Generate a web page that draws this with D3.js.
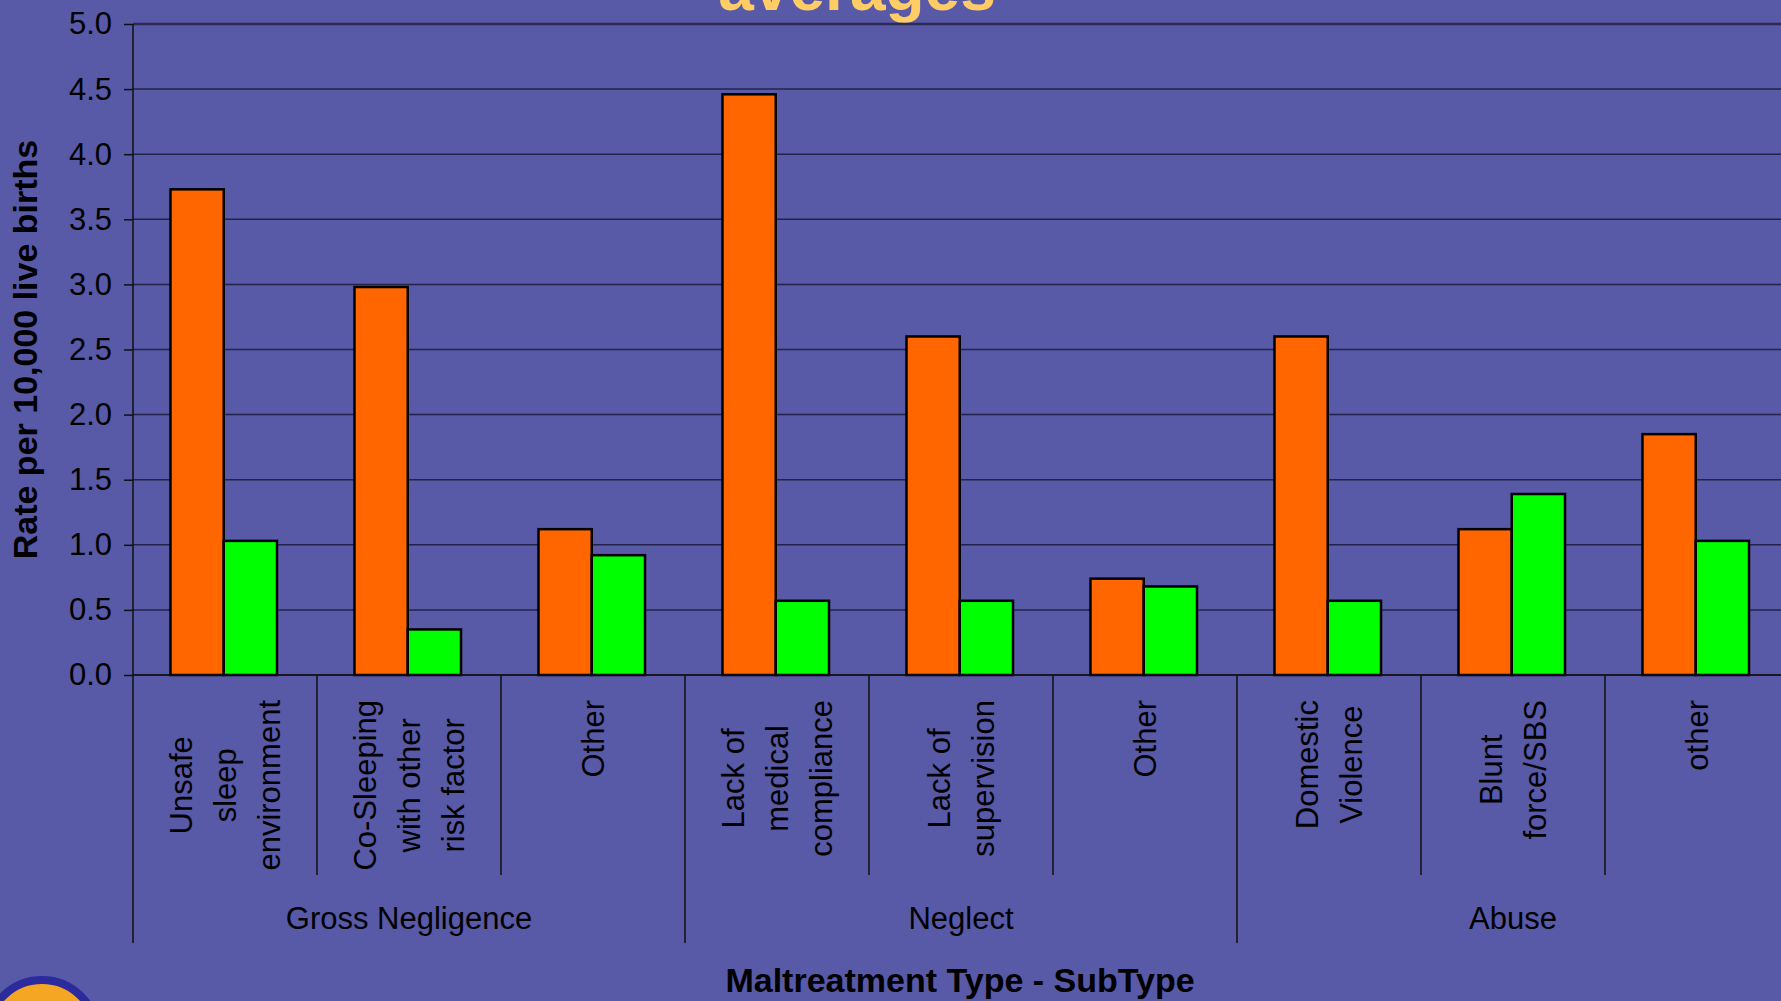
<!DOCTYPE html>
<html>
<head>
<meta charset="utf-8">
<script src="https://cdn.jsdelivr.net/npm/d3@7"></script>
<style>
  html, body { margin: 0; padding: 0; background: #5859A7; overflow: hidden; }
  svg { display: block; }
  text { font-family: "Liberation Sans", Arial, sans-serif; }
</style>
</head>
<body>
<svg id="chart" width="1781" height="1001"></svg>
<script>
// ---- data ----
const groups = ["Gross Negligence", "Neglect", "Abuse"];
const categories = [
  ["Unsafe", "sleep", "environment"],
  ["Co-Sleeping", "with other", "risk factor"],
  ["Other"],
  ["Lack of", "medical", "compliance"],
  ["Lack of", "supervision"],
  ["Other"],
  ["Domestic", "Violence"],
  ["Blunt", "force/SBS"],
  ["other"]
];
const categoryGroup = [0, 0, 0, 1, 1, 1, 2, 2, 2];
const seriesNames = ["Series A", "Series B"];
const seriesA = [3.73, 2.98, 1.12, 4.46, 2.60, 0.74, 2.60, 1.12, 1.85];
const seriesB = [1.03, 0.35, 0.92, 0.57, 0.57, 0.68, 0.57, 1.39, 1.03];
const yTicks = [0, 0.5, 1, 1.5, 2, 2.5, 3, 3.5, 4, 4.5, 5];
const titleText = "averages";
const yTitle = "Rate per 10,000 live births";
const xTitle = "Maltreatment Type - SubType";

(function () {
// ---- layout ----
const svg = d3.select("#chart");
const pL = 133, pT = 24, pB = 675;
const step = 184;
const pR = pL + step * categories.length;
const colors = ["#FF6600", "#00FF00"];

const idx = d3.range(categories.length);
const x0 = d3.scaleBand().domain(idx).range([pL, pR]).padding(0);
const x1 = d3.scaleBand().domain([0, 1]).range([37.5, 144]).padding(0);
const y = d3.scaleLinear().domain([0, 5]).range([pB, pT]);

// title (cut off at top, as in the reference)
svg.append("text")
  .attr("x", 857).attr("y", 10)
  .attr("text-anchor", "middle")
  .attr("font-weight", "bold").attr("font-size", 64)
  .attr("fill", "#FFCC66")
  .text(titleText);

// gridlines
svg.append("g")
  .selectAll("line").data(yTicks).join("line")
  .attr("x1", pL).attr("x2", pR)
  .attr("y1", d => y(d)).attr("y2", d => y(d))
  .attr("stroke", d => d === 5 ? "#2a2a55" : "#23234a")
  .attr("stroke-width", d => d === 5 ? 2.5 : 1.5);

// y axis
const yAxis = d3.axisLeft(y).tickValues(yTicks).tickFormat(d3.format(".1f")).tickSize(9).tickPadding(12);
const yg = svg.append("g").attr("transform", `translate(${pL},0)`).call(yAxis);
yg.select(".domain").remove();
yg.selectAll(".tick line").attr("stroke", "#111").attr("stroke-width", 1.5);
yg.selectAll(".tick text").attr("font-size", 31).attr("fill", "#000")
  .attr("font-family", "'Liberation Sans', Arial, sans-serif");

// bars
const bars = svg.append("g");
idx.forEach(i => {
  [seriesA[i], seriesB[i]].forEach((v, s) => {
    bars.append("rect")
      .attr("x", x0(i) + x1(s))
      .attr("y", y(v))
      .attr("width", x1.bandwidth())
      .attr("height", y(0) - y(v))
      .attr("fill", colors[s])
      .attr("stroke", "#000")
      .attr("stroke-width", 2.5);
  });
});

// axis lines
svg.append("line").attr("x1", pL).attr("x2", pR).attr("y1", pB).attr("y2", pB)
  .attr("stroke", "#111").attr("stroke-width", 1.5);
svg.append("line").attr("x1", pL).attr("x2", pL).attr("y1", pT).attr("y2", 943)
  .attr("stroke", "#111").attr("stroke-width", 1.5);

// category dividers
idx.slice(1).forEach(i => {
  const isGroupEdge = categoryGroup[i] !== categoryGroup[i - 1];
  svg.append("line")
    .attr("x1", x0(i)).attr("x2", x0(i))
    .attr("y1", pB).attr("y2", isGroupEdge ? 943 : 875)
    .attr("stroke", "#111").attr("stroke-width", 1.5);
});
svg.append("line").attr("x1", pR).attr("x2", pR).attr("y1", pB).attr("y2", 943)
  .attr("stroke", "#111").attr("stroke-width", 1.5);

// category labels (rotated, multi-line, centered)
const lineGap = 44;
const labelTop = 700;
idx.forEach(i => {
  const lines = categories[i];
  const cx = x0(i) + step / 2;
  const g = svg.append("g");
  const texts = lines.map(ln => g.append("text")
    .attr("font-size", 31).attr("fill", "#000")
    .attr("text-anchor", "middle").attr("dy", "0.35em")
    .text(ln));
  const maxLen = d3.max(texts, t => t.node().getComputedTextLength());
  const cy = labelTop + maxLen / 2;
  texts.forEach((t, k) => {
    const off = (k - (lines.length - 1) / 2) * lineGap;
    t.attr("transform", `translate(${cx + off},${cy}) rotate(-90)`);
  });
});

// group labels
groups.forEach((gname, gi) => {
  const members = idx.filter(i => categoryGroup[i] === gi);
  const gx = (x0(members[0]) + x0(members[members.length - 1]) + step) / 2;
  svg.append("text")
    .attr("x", gx).attr("y", 929)
    .attr("text-anchor", "middle").attr("font-size", 31).attr("fill", "#000")
    .text(gname);
});

// axis titles
svg.append("text")
  .attr("transform", `translate(37,${(pT + pB) / 2}) rotate(-90)`)
  .attr("text-anchor", "middle")
  .attr("font-weight", "bold").attr("font-size", 34).attr("fill", "#000")
  .text(yTitle);
svg.append("text")
  .attr("x", 960).attr("y", 992)
  .attr("text-anchor", "middle")
  .attr("font-weight", "bold").attr("font-size", 34).attr("fill", "#000")
  .text(xTitle);

// logo seal (partially visible, bottom-left)
svg.append("circle").attr("cx", 42).attr("cy", 1035).attr("r", 55)
  .attr("fill", "#F5A623").attr("stroke", "#2B2B9E").attr("stroke-width", 8);
})();
</script>
</body>
</html>
